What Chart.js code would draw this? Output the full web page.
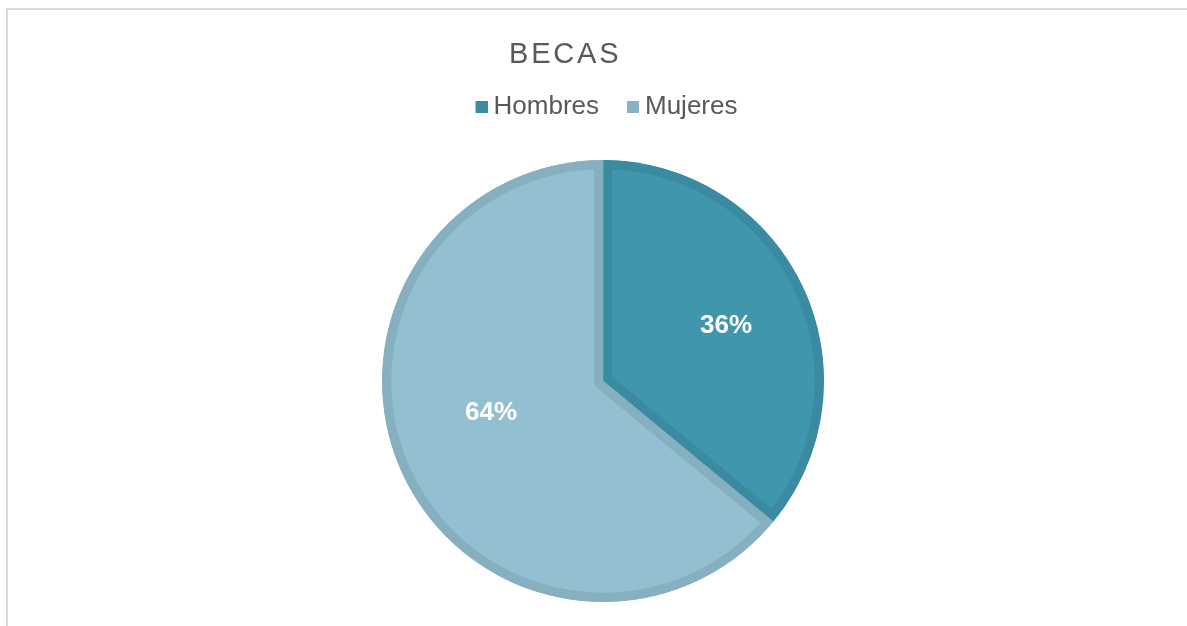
<!DOCTYPE html>
<html>
<head>
<meta charset="utf-8">
<title>BECAS</title>
<script src="https://cdn.jsdelivr.net/npm/chart.js@4/dist/chart.umd.min.js"></script>
<style>
  html, body { margin: 0; padding: 0; background: #ffffff; overflow: hidden; }
  #wrap { position: relative; width: 1187px; height: 626px; overflow: hidden; }
  #frame {
    position: absolute; left: 6px; top: 8px; width: 1300px; height: 700px;
    border-left: 2px solid #d9d9d9; border-top: 2px solid #d9d9d9;
  }
  #holder { position: absolute; left: 0; top: 0; width: 1187px; height: 680px; }
</style>
</head>
<body>
<div id="wrap">
  <div id="frame"></div>
  <div id="holder"><canvas id="chart" width="1187" height="680"></canvas></div>
</div>
<script>
// Chart content
const chartTitle = 'BECAS';
const categories = ['Hombres', 'Mujeres'];
const shares = [36, 64];

// Slice colours
const fillColors = ['#4096ad', '#93c0d1'];
const edgeColors = ['#3a8ba2', '#86b0c0'];
const swatchColors = ['#3b8ca2', '#87b4c4'];

const fontFamily = "'Liberation Sans', Arial, Helvetica, sans-serif";

// Legend swatch: a 12px square sitting on the right of a 26px-wide tile,
// so it ends close to the label text.
function makeSwatch(color) {
  const c = document.createElement('canvas');
  c.width = 26; c.height = 12;
  const g = c.getContext('2d');
  g.fillStyle = color;
  g.fillRect(14, 0, 12, 12);
  return c;
}
const swatches = swatchColors.map(makeSwatch);

// Heading drawn with wide letter spacing
const headlinePlugin = {
  id: 'headline',
  afterDraw(chart, args, opts) {
    const ctx = chart.ctx;
    ctx.save();
    ctx.font = `${opts.size}px ${fontFamily}`;
    if ('letterSpacing' in ctx) ctx.letterSpacing = opts.spacing + 'px';
    ctx.fillStyle = opts.color;
    ctx.textAlign = 'left';
    ctx.textBaseline = 'alphabetic';
    ctx.fillText(opts.text, opts.x, opts.y);
    ctx.restore();
  }
};

// Percentage labels inside each slice
const sliceLabelPlugin = {
  id: 'sliceLabels',
  afterDatasetsDraw(chart, args, opts) {
    const meta = chart.getDatasetMeta(0);
    const values = chart.data.datasets[0].data;
    const total = values.reduce((a, b) => a + b, 0);
    const ctx = chart.ctx;
    ctx.save();
    ctx.font = `bold ${opts.size}px ${fontFamily}`;
    ctx.fillStyle = opts.color;
    ctx.textAlign = 'center';
    ctx.textBaseline = 'middle';
    meta.data.forEach((arc, i) => {
      const p = arc.getProps(['x', 'y', 'startAngle', 'endAngle', 'outerRadius'], true);
      const place = opts.placement[i];
      const a = (p.startAngle + p.endAngle) / 2 + place.turn * Math.PI / 180;
      const r = p.outerRadius * place.radius;
      const text = Math.round(values[i] / total * 100) + '%';
      ctx.fillText(text, p.x + r * Math.cos(a), p.y + r * Math.sin(a) + opts.drop);
    });
    ctx.restore();
  }
};

new Chart(document.getElementById('chart'), {
  type: 'pie',
  data: {
    labels: categories,
    datasets: [{
      data: shares,
      backgroundColor: fillColors,
      borderColor: edgeColors,
      borderWidth: 9,
      borderAlign: 'inner',
      hoverOffset: 0,
      hoverBorderWidth: 9
    }]
  },
  options: {
    responsive: false,
    animation: false,
    events: [],
    radius: 221,
    layout: { padding: { top: 73, bottom: 48, left: 200, right: 181 } },
    plugins: {
      title: { display: false },
      tooltip: { enabled: false },
      legend: {
        display: true,
        position: 'top',
        align: 'center',
        labels: {
          usePointStyle: true,
          boxWidth: 12,
          boxHeight: 12,
          padding: 21,
          color: '#595959',
          font: { family: fontFamily, size: 26 },
          generateLabels() {
            return categories.map((name, i) => ({
              text: name,
              fillStyle: swatchColors[i],
              strokeStyle: swatchColors[i],
              lineWidth: 0,
              pointStyle: swatches[i],
              fontColor: '#595959',
              hidden: false,
              index: i
            }));
          }
        }
      },
      headline: { text: chartTitle, size: 29, spacing: 2.8, color: '#595959', x: 509, y: 63 },
      sliceLabels: {
        size: 26,
        color: '#ffffff',
        drop: 3,
        placement: [
          { radius: 0.615, turn: 0 },
          { radius: 0.523, turn: 10.7 }
        ]
      }
    }
  },
  plugins: [headlinePlugin, sliceLabelPlugin]
});
</script>
</body>
</html>
